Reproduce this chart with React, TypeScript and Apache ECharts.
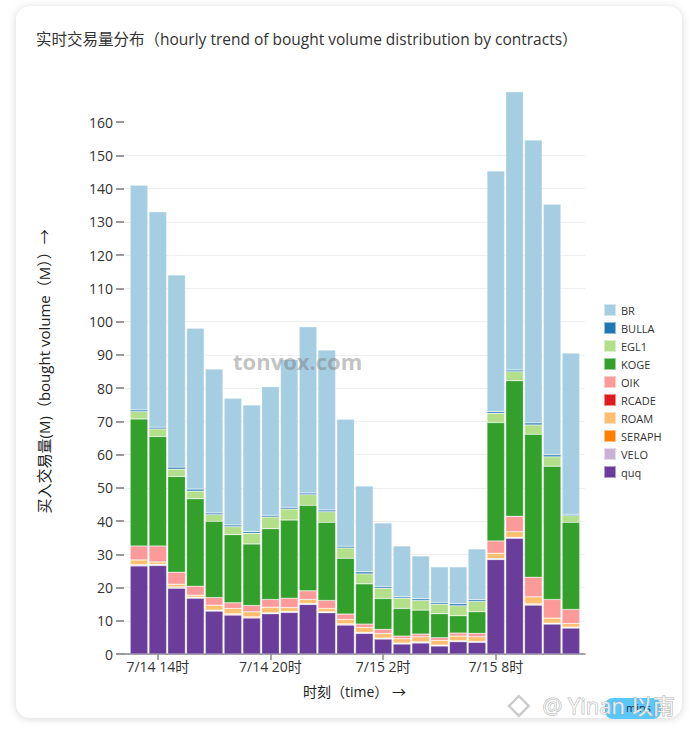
import React, { useEffect, useRef } from "react";
import * as echarts from "echarts";

const hourLabels = [
  "7/14 13时", "7/14 14时", "7/14 15时", "7/14 16时", "7/14 17时", "7/14 18时",
  "7/14 19时", "7/14 20时", "7/14 21时", "7/14 22时", "7/14 23时", "7/15 0时",
  "7/15 1时", "7/15 2时", "7/15 3时", "7/15 4时", "7/15 5时", "7/15 6时",
  "7/15 7时", "7/15 8时", "7/15 9时", "7/15 10时", "7/15 11时", "7/15 12时",
];
const labeledHours = [1, 7, 13, 19];
const yTicks = [0, 10, 20, 30, 40, 50, 60, 70, 80, 90, 100, 110, 120, 130, 140, 150, 160];

const legendOrder = ["BR", "BULLA", "EGL1", "KOGE", "OIK", "RCADE", "ROAM", "SERAPH", "VELO", "quq"];
const colors: Record<string, string> = {
  BR: "#a6cee3", BULLA: "#1f78b4", EGL1: "#b2df8a", KOGE: "#33a02c", OIK: "#fb9a99",
  RCADE: "#e31a1c", ROAM: "#fdbf6f", SERAPH: "#ff7f00", VELO: "#cab2d6", quq: "#6a3d9a",
};

const quq = [26.5, 26.6, 19.8, 16.8, 12.9, 11.7, 10.8, 12.1, 12.5, 14.9, 12.4, 8.7, 6.2, 4.5, 3.0, 3.3, 2.4, 3.7, 3.5, 28.4, 34.8, 14.7, 9.0, 7.8];
const VELO = [0.3, 0.3, 0.2, 0.2, 0.2, 0.2, 0.2, 0.2, 0.2, 0.2, 0.2, 0.2, 0.2, 0.2, 0.2, 0.2, 0.2, 0.2, 0.2, 0.2, 0.2, 0.2, 0.2, 0.2];
const SERAPH = [0.1, 0.1, 0.2, 0.1, 0.1, 0.2, 0.2, 0.1, 0.1, 0.1, 0.1, 0.2, 0.1, 0.1, 0.1, 0.2, 0.1, 0.1, 0.1, 0.1, 0.1, 0.2, 0.1, 0.1];
const ROAM = [1.4, 0.7, 0.8, 0.6, 1.5, 1.6, 1.5, 1.7, 1.2, 1.2, 1.0, 1.3, 1.5, 1.4, 1.3, 1.5, 1.4, 1.4, 1.4, 1.6, 1.7, 2.1, 1.5, 1.1];
const RCADE = [0, 0, 0, 0, 0, 0, 0, 0, 0, 0, 0, 0, 0, 0, 0, 0, 0, 0, 0, 0, 0, 0, 0, 0];
const OIK = [4.2, 4.8, 3.6, 2.7, 2.3, 1.7, 1.9, 2.3, 2.8, 2.6, 2.4, 1.6, 1.0, 1.2, 0.8, 0.8, 0.8, 0.9, 1.0, 3.7, 4.6, 5.9, 5.6, 4.2];
const KOGE = [38.2, 32.9, 28.8, 26.3, 22.9, 20.5, 18.5, 21.3, 23.5, 25.7, 23.5, 16.8, 12.1, 9.3, 8.3, 7.2, 7.2, 5.2, 6.5, 35.6, 40.8, 43.0, 40.1, 26.2];
const EGL1 = [2.2, 2.3, 2.2, 2.3, 2.0, 2.4, 3.2, 3.5, 3.3, 3.2, 3.2, 3.1, 3.0, 3.1, 3.1, 2.9, 2.9, 3.0, 3.1, 2.8, 2.7, 2.8, 2.8, 2.0];
const BULLA = [0.5, 0.5, 0.6, 0.6, 0.5, 0.5, 0.5, 0.5, 0.5, 0.5, 0.5, 0.5, 0.6, 0.5, 0.4, 0.5, 0.5, 0.6, 0.5, 0.5, 0.5, 0.6, 0.6, 0.4];
const BR = [67.6, 64.8, 57.8, 48.4, 43.3, 38.1, 38.1, 38.7, 44.5, 50.0, 48.1, 38.2, 25.8, 19.1, 15.3, 12.9, 10.7, 11.1, 15.3, 72.4, 83.7, 85.1, 75.4, 48.5];

const stackOrder: [string, number[]][] = [
  ["quq", quq], ["VELO", VELO], ["SERAPH", SERAPH], ["ROAM", ROAM], ["RCADE", RCADE],
  ["OIK", OIK], ["KOGE", KOGE], ["EGL1", EGL1], ["BULLA", BULLA], ["BR", BR],
];

const FONT = "'Open Sans', 'Noto Sans CJK SC', sans-serif";

// axis domain in hour units (padding before first and after last hour)
const X_MIN = -0.8;
const X_MAX = 23.75;
const PLOT_LEFT = 124;
const PLOT_RIGHT = 106;
const W = 691;

export default function App() {
  const ref = useRef<HTMLDivElement>(null);
  useEffect(() => {
    if (!ref.current) return;
    const chart = echarts.init(ref.current, undefined, { renderer: "svg" });
    const plotW = W - PLOT_LEFT - PLOT_RIGHT;
    const pxPerHour = plotW / (X_MAX - X_MIN);
    const barLeft = PLOT_LEFT + (-0.5 - X_MIN) * pxPerHour;
    const barRight = PLOT_RIGHT + (X_MAX - (hourLabels.length - 0.5)) * pxPerHour;
    chart.setOption({
      animation: false,
      textStyle: { fontFamily: FONT },
      title: {
        text: "实时交易量分布（hourly trend of bought volume distribution by contracts）",
        left: 36,
        top: 31,
        padding: 0,
        textStyle: { fontFamily: FONT, fontSize: 15.5, fontWeight: "normal", color: "#333" },
      },
      legend: {
        orient: "vertical",
        left: 603,
        top: 303,
        padding: 0,
        itemWidth: 12,
        itemHeight: 12,
        itemGap: 4,
        icon: "rect",
        data: legendOrder,
        textStyle: { fontSize: 11, color: "#333", fontFamily: FONT },
      },
      grid: [
        { left: PLOT_LEFT, right: PLOT_RIGHT, top: 88.75, bottom: 80, containLabel: false },
        { left: barLeft, right: barRight, top: 88.75, bottom: 80, containLabel: false },
      ],
      xAxis: [
        {
          type: "value",
          gridIndex: 0,
          min: X_MIN,
          max: X_MAX,
          name: "时刻（time） →",
          nameLocation: "middle",
          nameGap: 30,
          nameTextStyle: { fontSize: 14, color: "#222", fontFamily: FONT },
          axisLine: { show: true, onZero: false, lineStyle: { color: "#888", width: 1.5 } },
          axisTick: { show: true, length: 6, customValues: labeledHours, lineStyle: { color: "#888", width: 1.5 } },
          axisLabel: {
            customValues: labeledHours,
            formatter: (v: number) => hourLabels[Math.round(v)] || "",
            fontSize: 14,
            color: "#333",
            margin: 5,
          },
          splitLine: { show: false },
        },
        {
          type: "category",
          gridIndex: 1,
          data: hourLabels,
          show: false,
          boundaryGap: true,
        },
      ],
      yAxis: [
        {
          type: "value",
          gridIndex: 0,
          min: 0,
          max: 170,
          interval: 10,
          name: "买入交易量(M)（bought volume（M））→",
          nameLocation: "middle",
          nameGap: 73,
          nameRotate: 90,
          nameTextStyle: { fontSize: 15, color: "#222", fontFamily: FONT },
          axisLine: { show: false, onZero: false },
          axisTick: { show: true, length: 8, inside: false, customValues: yTicks, lineStyle: { color: "#777", width: 1.5 } },
          axisLabel: { customValues: yTicks, fontSize: 14, color: "#333", margin: 11 },
          splitLine: { show: true, showMaxLine: false, lineStyle: { color: "#eeeeee", width: 1 } },
        },
        {
          type: "value",
          gridIndex: 1,
          min: 0,
          max: 170,
          show: false,
          splitLine: { show: false },
        },
      ],
      series: stackOrder.map(([name, vals]) => ({
        name,
        type: "bar",
        stack: "total",
        xAxisIndex: 1,
        yAxisIndex: 1,
        barWidth: 17.6,
        data: vals,
        itemStyle: { color: colors[name], borderColor: "rgba(255,255,255,0.5)", borderWidth: 0.5 },
      })),
      graphic: [
        {
          type: "text",
          left: 233,
          top: 350,
          style: { text: "tonvox.com", fontSize: 22, fontWeight: "bold", fontFamily: "'Open Sans', sans-serif", fill: "rgba(120,120,120,0.45)" },
          z: 100,
        },
        {
          type: "rect",
          shape: { x: 605, y: 698, width: 56, height: 21, r: 8 },
          style: { fill: "#5ac8fa" },
          z: 100,
        },
        {
          type: "text",
          left: 626,
          top: 702,
          style: { text: "mins", fontSize: 11, fill: "#234", fontFamily: FONT },
          z: 101,
        },
        {
          type: "rect",
          shape: { x: 512, y: 699, width: 14, height: 14 },
          rotation: Math.PI / 4,
          originX: 519,
          originY: 706,
          style: { fill: "none", stroke: "rgba(200,200,200,0.9)", lineWidth: 2.5 },
          z: 102,
        },
        {
          type: "text",
          left: 542,
          top: 693,
          style: {
            text: "@ Yinan 以南",
            fontSize: 22,
            fontFamily: FONT,
            fill: "rgba(255,255,255,0.75)",
            stroke: "rgba(170,170,170,0.9)",
            lineWidth: 1,
          },
          z: 102,
        },
      ],
    });
    return () => chart.dispose();
  }, []);

  return (
    <div style={{ position: "fixed", left: 0, top: 0, width: 691, height: 734, background: "#fff", overflow: "hidden" }}>
      <div
        style={{
          position: "absolute",
          left: 16,
          top: 6,
          width: 666,
          height: 712,
          borderRadius: 14,
          background: "#fff",
          boxShadow: "0 1px 8px rgba(0,0,0,0.16)",
        }}
      />
      <div ref={ref} style={{ position: "absolute", left: 0, top: 0, width: 691, height: 734 }} />
    </div>
  );
}
